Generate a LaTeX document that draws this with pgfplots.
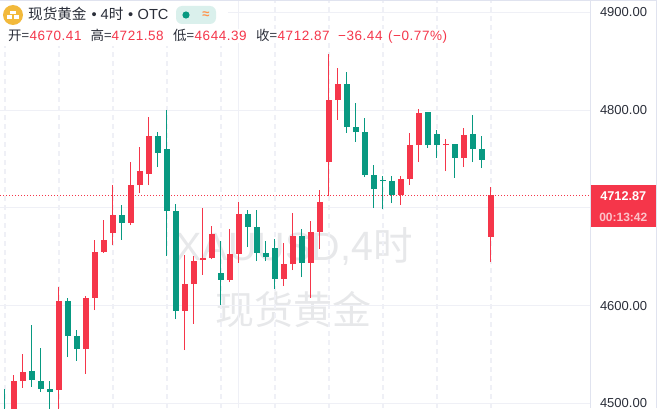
\documentclass[border=0pt]{standalone}
\usepackage{fontspec}
\usepackage{pgfplots}
\usepackage{pgfplotstable}
\pgfplotsset{compat=1.18}
\setmainfont{Liberation Sans}
\newfontfamily\cjk{Noto Sans CJK SC}
\newfontfamily\rowfont[LetterSpace=4]{Liberation Sans}
\definecolor{up}{HTML}{F5364A}
\definecolor{down}{HTML}{089981}
\definecolor{gridc}{HTML}{EFF0F6}
\definecolor{panel}{HTML}{E0E3EF}
\definecolor{wm}{HTML}{E7E8EA}
\definecolor{ink}{HTML}{2A2E39}
\definecolor{gold}{HTML}{F2B93B}
\pgfplotstableread{
x open high low close
0 4493.3 4514.7 4477.9 4483.0
3 4533.1 4580.2 4516.8 4523.9
4 4522.9 4556.6 4511.7 4514.7
5 4514.7 4522.9 4493.3 4511.7
7 4604.7 4607.8 4547.4 4568.9
8 4568.9 4575.0 4543.4 4555.6
13 4692.6 4702.9 4667.1 4684.5
17 4773.4 4777.5 4741.7 4756.0
18 4760.1 4800.0 4650.7 4696.7
19 4696.7 4703.9 4586.3 4594.5
24 4633.3 4666.1 4600.6 4626.2
27 4693.7 4697.8 4659.9 4680.4
28 4680.4 4697.8 4645.6 4653.8
29 4653.8 4666.1 4645.6 4649.7
30 4658.9 4668.1 4617.0 4627.2
33 4671.2 4678.3 4629.2 4643.6
38 4826.6 4838.9 4776.5 4782.6
39 4782.6 4807.2 4767.3 4777.5
40 4777.5 4791.8 4731.5 4733.5
41 4733.5 4743.8 4699.8 4719.2
42 4728.4 4732.5 4698.8 4727.4
43 4727.4 4732.5 4704.9 4713.1
47 4798.0 4798.0 4761.1 4764.2
48 4775.5 4779.5 4750.9 4764.2
50 4765.2 4765.2 4730.5 4750.9
52 4775.5 4794.9 4746.8 4760.1
53 4760.1 4773.4 4740.7 4748.9
}\downcandles
\pgfplotstableread{
x open high low close
1 4488.1 4529.0 4483.0 4522.9
2 4522.9 4550.5 4515.8 4532.1
6 4513.7 4619.0 4493.3 4604.7
9 4555.6 4609.8 4530.1 4607.8
10 4607.8 4667.1 4595.5 4654.8
11 4654.8 4687.5 4653.8 4667.1
12 4674.2 4723.3 4662.0 4692.6
14 4684.5 4746.8 4682.4 4723.3
15 4723.3 4762.2 4715.1 4737.6
16 4734.6 4792.8 4723.3 4773.4
20 4594.5 4651.7 4554.6 4622.1
21 4622.1 4650.7 4581.2 4645.6
22 4646.6 4699.8 4631.3 4648.7
23 4648.7 4681.4 4647.6 4673.2
25 4626.2 4678.3 4624.1 4652.8
26 4652.8 4705.9 4643.6 4693.7
31 4627.2 4664.0 4620.0 4642.5
32 4642.5 4694.7 4636.4 4671.2
34 4643.6 4686.5 4607.8 4675.3
35 4675.3 4718.2 4657.9 4705.9
36 4746.8 4857.3 4712.1 4810.2
37 4810.2 4842.9 4789.8 4826.6
44 4713.1 4732.5 4702.9 4729.4
45 4729.4 4776.5 4723.3 4764.2
46 4764.2 4801.0 4746.8 4796.9
49 4764.2 4770.3 4737.6 4765.2
51 4750.9 4781.6 4741.7 4774.4
54 4670.41 4721.58 4644.39 4712.87
}\upcandles
\pgfplotsset{
  wick/.style={draw=none,mark=none,forget plot,
    error bars/y dir=plus,error bars/y explicit,error bars/error mark=none,
    error bars/error bar style={line width=1pt,color=#1}},
  body/.style={draw=none,mark=none,forget plot,
    error bars/y dir=plus,error bars/y explicit,error bars/error mark=none,
    error bars/error bar style={line width=6pt,color=#1}},
}
\newcommand\wicks[2]{\addplot[wick=#2] table[x=x,y=low,y error plus expr=\thisrow{high}-\thisrow{low}]{#1};}
\newcommand\bodies[2]{\addplot[body=#2] table[x=x,y expr={min(\thisrow{open},\thisrow{close})},y error plus expr={abs(\thisrow{close}-\thisrow{open})}]{#1};}
\begin{document}
\begin{tikzpicture}
\useasboundingbox (0,0) rectangle (657pt,408pt);
% watermark, behind the chart
\node[inner sep=0,text=wm] at (294pt,161pt) {\fontsize{39.5}{41}\selectfont XAUUSD,{\cjk 4时}};
\node[inner sep=0,text=wm] at (293pt,98pt) {\fontsize{39}{41}\selectfont\cjk 现货黄金};
\begin{axis}[
  at={(0,0)},anchor=south west,
  width=590.5pt,height=408pt,scale only axis,
  xmin=-0.522,xmax=65.09,ymin=4495.3,ymax=4912.5,
  axis line style={draw=none},
  major tick length=0pt,
  clip=true,
  xtick={0,6,...,54},xticklabels={},
  extra x ticks={26},extra x tick labels={},
  extra x tick style={grid=major,x grid style={gridc,line width=0.8pt,solid}},
  xmajorgrids=true,ymajorgrids=true,
  x grid style={gridc,line width=2pt,dash pattern=on 5pt off 4pt},
  y grid style={gridc,line width=0.9pt},
  ytick={4500,4600,4700,4800,4900},
  yticklabels={4500.00,4600.00,,4800.00,4900.00},
  yticklabel pos=right,
  yticklabel style={font=\fontsize{13}{14}\selectfont,text=ink,anchor=west,xshift=9.3pt,inner sep=0pt},
]
\addplot[up,line width=1pt,dash pattern=on 1.4pt off 1.6pt,forget plot] coordinates {(-0.522,4712.87) (65.09,4712.87)};
\wicks{\downcandles}{down}
\bodies{\downcandles}{down}
\wicks{\upcandles}{up}
\bodies{\upcandles}{up}
\end{axis}
% frame and price panel
\draw[panel,line width=0.9pt] (590.5pt,0)--(590.5pt,408pt);
\draw[panel,line width=1.5pt] (656.4pt,0)--(656.4pt,408pt);
\draw[panel,line width=1.5pt] (0,407.5pt)--(657pt,407.5pt);
\fill[up] (590.5pt,181pt) rectangle (656pt,223pt);
\node[inner sep=0,text=white] at (623.3pt,212pt) {\fontsize{12.7}{14}\selectfont\bfseries 4712.87};
\node[inner sep=0,text=white!70!up] at (623.3pt,191pt) {\fontsize{12}{14}\selectfont\bfseries 00:13:42};
% header
\fill[white] (0,362pt) rectangle (228pt,406.7pt);
\fill[white] (228pt,365pt) rectangle (452pt,379pt);
\fill[gold] (13pt,393pt) circle (10pt);
\fill[white] (10.3pt,393.6pt) rectangle (15.7pt,397.4pt);
\fill[white] (6.8pt,388.9pt) rectangle (12.4pt,392.7pt);
\fill[white] (13.6pt,388.9pt) rectangle (19.2pt,392.7pt);
\newcommand\head[2]{\node[anchor=base west,inner sep=0,text=ink] at (#1pt,388pt) {\fontsize{14.6}{16}\selectfont #2};}
\head{28}{{\cjk 现货黄金}}
\head{91.5}{•}
\head{100.5}{4{\cjk 时}}
\head{128}{•}
\head{137.5}{OTC}
\fill[down!15!white,rounded corners=6pt] (176pt,384pt) rectangle (216pt,402pt);
\fill[down] (186pt,393pt) circle (3.6pt);
\node[inner sep=0,text=orange!80!red!70!white] at (206pt,393pt) {\fontsize{13}{14}\selectfont\bfseries ≈};
\newcommand\lab[2]{\node[anchor=base west,inner sep=0,text=ink] at (#1pt,367.6pt) {\fontsize{13.5}{15}\selectfont\cjk #2};}
\newcommand\val[2]{\node[anchor=base west,inner sep=0,text=up] at (#1pt,367.6pt) {\fontsize{13.5}{15}\selectfont\rowfont #2};}
\lab{8}{开=}\val{29.3}{4670.41}
\lab{90.5}{高=}\val{111.5}{4721.58}
\lab{173}{低=}\val{194.5}{4644.39}
\lab{256}{收=}\val{277.5}{4712.87}
\val{338}{−36.44}
\val{388}{(−0.77\%)}
\end{tikzpicture}
\end{document}
